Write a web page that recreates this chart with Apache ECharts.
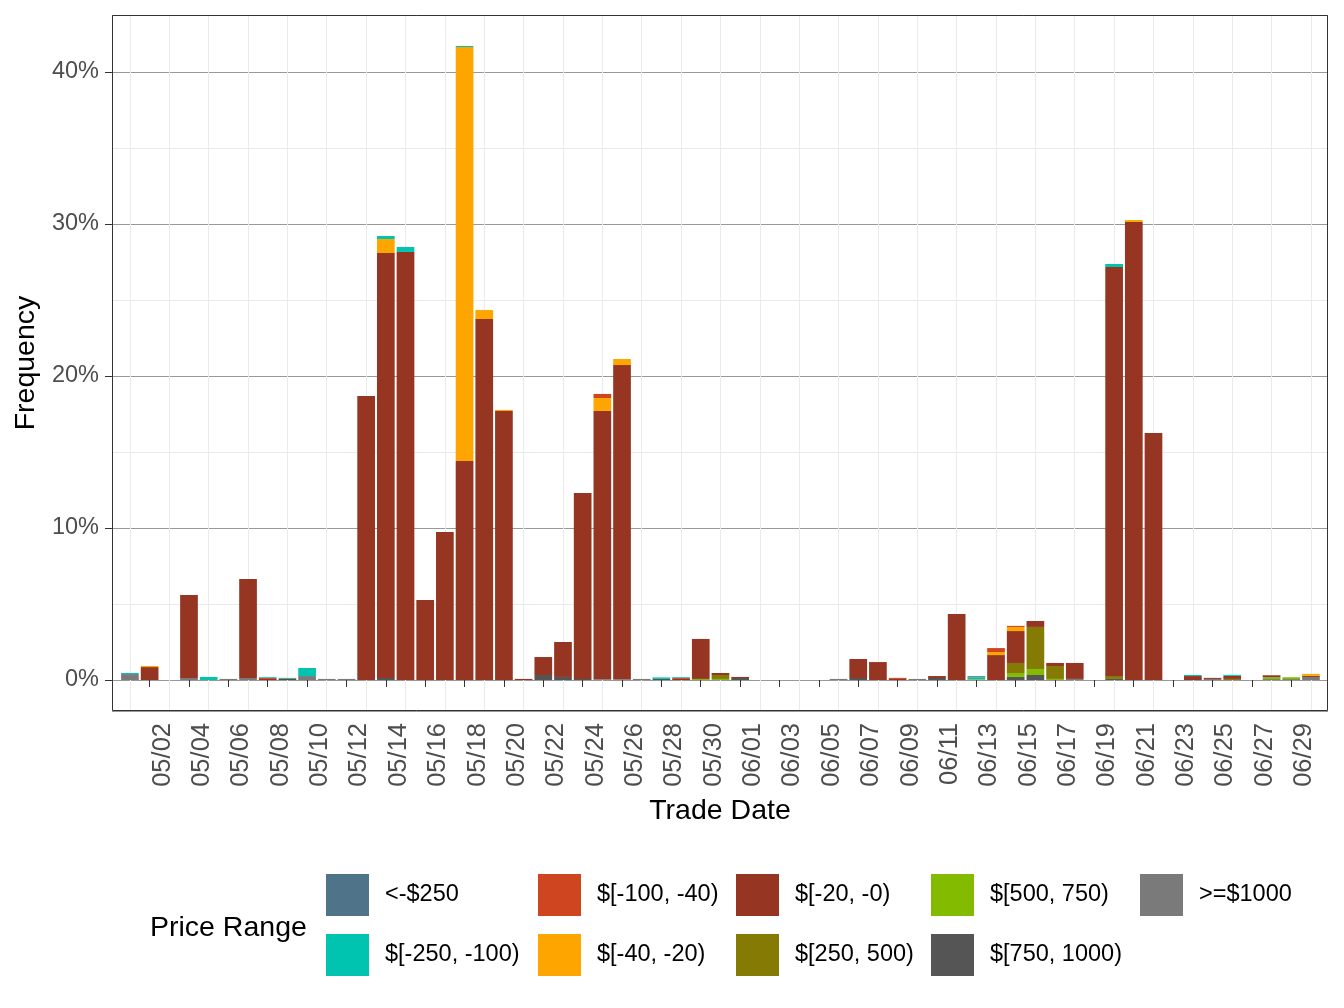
<!DOCTYPE html>
<html><head><meta charset="utf-8">
<script src="https://cdn.jsdelivr.net/npm/echarts@6/dist/echarts.min.js"></script>
<style>html,body{margin:0;padding:0;background:#fff}#c{width:1344px;height:1008px}</style>
</head><body><div id="c"></div>
<script>
const dates = ['05/01','05/02','05/03','05/04','05/05','05/06','05/07','05/08','05/09','05/10',
'05/11','05/12','05/13','05/14','05/15','05/16','05/17','05/18','05/19','05/20',
'05/21','05/22','05/23','05/24','05/25','05/26','05/27','05/28','05/29','05/30',
'05/31','06/01','06/02','06/03','06/04','06/05','06/06','06/07','06/08','06/09',
'06/10','06/11','06/12','06/13','06/14','06/15','06/16','06/17','06/18','06/19',
'06/20','06/21','06/22','06/23','06/24','06/25','06/26','06/27','06/28','06/29','06/30'];

const seriesNames = ['>=$1000','$[750, 1000)','$[500, 750)','$[250, 500)','$[-20, -0)','$[-40, -20)','$[-100, -40)','$[-250, -100)','<-$250'];
const seriesColors = ['#7a7a7a','#555555','#82bb00','#847a04','#963522','#ffa500','#cf4520','#00c4b0','#4f7489'];

const ge1000 = [0.39,0,0,0.13,0,0.07,0.13,0,0,0.26,
0.07,0.07,0,0,0,0,0,0,0,0,
0,0,0,0,0.05,0.05,0.07,0,0,0,
0,0,0,0,0,0,0.07,0,0,0,
0.07,0,0,0,0,0,0,0,0.07,0,
0,0,0,0,0,0.07,0,0,0,0,
0.2];
const p750 = [0,0,0,0,0,0,0,0,0,0,
0,0,0,0.13,0,0,0,0,0,0,
0,0.33,0.2,0.07,0,0,0,0.07,0,0,
0,0.13,0,0,0,0,0,0.13,0,0,
0,0.13,0,0,0,0.2,0.33,0,0,0,
0.07,0,0,0,0,0,0,0,0.05,0.05,
0];
const p500 = [0,0,0,0,0,0,0,0,0,0,
0,0,0,0,0,0,0,0,0,0,
0,0,0,0,0,0,0,0,0,0.07,
0.07,0,0,0,0,0,0,0,0,0,
0,0,0,0.05,0,0.26,0.39,0.07,0,0,
0,0,0,0,0,0,0,0,0.13,0.13,
0];
const p250 = [0,0,0,0,0,0,0,0,0,0,
0,0,0,0,0,0,0,0,0,0,
0,0,0,0,0,0,0,0,0,0,
0.26,0,0,0,0,0,0,0,0,0,
0,0,0,0,0,0.66,2.77,0.85,0,0,
0.2,0,0,0,0,0,0.07,0,0,0,
0];
const n20 = [0,0.85,0,5.46,0,0,6.51,0.07,0.07,0,
0,0,18.68,27.96,28.16,5.26,9.74,14.41,23.75,17.70,
0.07,1.18,2.3,12.23,17.65,20.67,0,0,0.07,2.63,
0.13,0.07,0,0,0,0,0,1.25,1.18,0.07,
0,0.13,4.34,0,1.64,2.1,0.39,0.2,1.05,0,
26.9,30.13,16.25,0,0.26,0.07,0.2,0,0.13,0,
0.07];
const n40 = [0,0.07,0,0,0,0,0,0,0,0,
0,0,0,0.92,0,0,0,27.23,0.59,0.07,
0,0,0,0,0.85,0.4,0,0,0,0,
0,0,0,0,0,0,0,0,0,0,
0,0,0,0,0.2,0.27,0,0,0,0,
0,0.13,0,0,0,0,0,0,0,0,
0.13];
const n100 = [0,0,0,0,0,0,0,0.07,0,0,
0,0,0,0,0,0,0,0,0,0,
0,0,0,0,0.27,0,0,0,0.07,0,
0,0,0,0,0,0,0,0,0,0.07,
0,0,0,0,0.26,0.07,0,0,0,0,
0,0,0,0,0,0,0,0,0,0,
0];
const n250 = [0.07,0,0,0,0.2,0,0,0.05,0.07,0.53,
0,0,0,0.2,0.33,0,0,0.07,0,0,
0,0,0,0,0,0,0,0.1,0.05,0,
0,0,0,0,0,0,0,0,0,0,
0,0,0,0.13,0,0,0,0,0,0,
0.2,0,0,0,0.07,0,0.07,0,0,0,
0];
const lt250 = [0,0,0,0,0,0,0,0,0,0,
0,0,0,0,0,0,0,0,0,0,
0,0,0,0,0,0,0,0,0,0,
0,0,0,0,0,0,0,0,0,0,
0,0,0,0.07,0,0,0,0,0,0,
0,0,0,0,0,0,0,0,0,0,
0];

const allValues = [ge1000, p750, p500, p250, n20, n40, n100, n250, lt250];
const yTickLabels = ['0%','10%','20%','30%','40%'];
const Y_MIN = -2.04, Y_MAX = 43.75;

const FONT = 'Liberation Sans, Arial, Helvetica, sans-serif';
const chart = echarts.init(document.getElementById('c'), null, {renderer:'canvas'});

const series = allValues.map((arr, k) => ({
  name: seriesNames[k],
  type: 'bar',
  stack: 'total',
  xAxisIndex: 1, yAxisIndex: 1,
  barWidth: 17.7,
  itemStyle: {color: seriesColors[k]},
  emphasis: {disabled: true},
  data: arr
}));

const legendCols = [
  ['<-$250','$[-250, -100)'],
  ['$[-100, -40)','$[-40, -20)'],
  ['$[-20, -0)','$[250, 500)'],
  ['$[500, 750)','$[750, 1000)'],
  ['>=$1000']
];
const legendLeft = [326, 538, 736, 931, 1140];
const legends = legendCols.map((col, j) => ({
  orient: 'vertical', left: legendLeft[j], top: 874, padding: 0,
  itemWidth: 43, itemHeight: 42, itemGap: 18, icon: 'rect', selectedMode: false,
  data: col,
  textStyle: {fontSize: 23.5, color: '#000', fontFamily: FONT, padding: [0,0,0,11]}
}));

chart.setOption({
  animation: false,
  backgroundColor: '#fff',
  textStyle: {fontFamily: FONT},
  grid: [
    {left: 112, right: 16, top: 15, bottom: 297, outerBoundsMode: 'none', containLabel: false},
    {left: 120.1, right: 23.2, top: 15, bottom: 297, outerBoundsMode: 'none', containLabel: false}
  ],
  xAxis: [{
    gridIndex: 0,
    type: 'value', min: 0.09, max: 61.87, minInterval: 2, maxInterval: 2, splitNumber: 30,
    name: 'Trade Date', nameLocation: 'middle', nameGap: 86,
    nameTextStyle: {fontSize: 28.5, color: '#000', fontFamily: FONT},
    axisLine: {show: false},
    axisTick: {show: true, length: 7, lineStyle: {color: '#333', width: 1}},
    axisLabel: {
      rotate: 90, fontSize: 25.5, color: '#4d4d4d', margin: 12, verticalAlign: 'top',
      showMinLabel: false, showMaxLabel: false, fontFamily: FONT,
      formatter: v => (Math.abs(v - Math.round(v)) < 1e-6 ? (dates[Math.round(v) - 1] || '') : '')
    },
    splitLine: {show: false},
    minorTick: {show: false, splitNumber: 2},
    minorSplitLine: {show: true, lineStyle: {color: '#ebebeb', width: 1}}
  }, {
    gridIndex: 1, type: 'category', data: dates, show: false, boundaryGap: true
  }],
  yAxis: [{
    gridIndex: 0,
    type: 'value', min: Y_MIN, max: Y_MAX, minInterval: 10, maxInterval: 10, splitNumber: 5,
    name: 'Frequency', nameLocation: 'middle', nameGap: 70, nameRotate: 90,
    nameTextStyle: {fontSize: 28.5, color: '#000', fontFamily: FONT},
    axisLine: {show: false},
    axisTick: {show: true, length: 7, lineStyle: {color: '#333', width: 1}},
    axisLabel: {
      fontSize: 23.5, color: '#4d4d4d', margin: 13, fontFamily: FONT, padding: [4, 0, 0, 0],
      showMinLabel: false, showMaxLabel: false,
      formatter: v => { const s = Math.round(v) + '%'; return yTickLabels.includes(s) && Math.abs(v - Math.round(v)) < 1e-6 ? s : ''; }
    },
    splitLine: {show: true, lineStyle: {color: '#7f7f7f', width: 0.8}},
    minorTick: {show: false, splitNumber: 2},
    minorSplitLine: {show: true, lineStyle: {color: '#ebebeb', width: 1}}
  }, {
    gridIndex: 1, type: 'value', min: Y_MIN, max: Y_MAX, show: false, splitLine: {show: false}
  }],
  legend: legends,
  graphic: [
    {type: 'rect', z: 100, silent: true, shape: {x: 112.5, y: 15.5, width: 1215, height: 695},
     style: {fill: null, stroke: '#333', lineWidth: 1}},
    {type: 'text', left: 150, top: 914, silent: true,
     style: {text: 'Price Range', fontSize: 28.5, fill: '#000', fontFamily: FONT}}
  ],
  series: series
});
</script>
</body></html>
